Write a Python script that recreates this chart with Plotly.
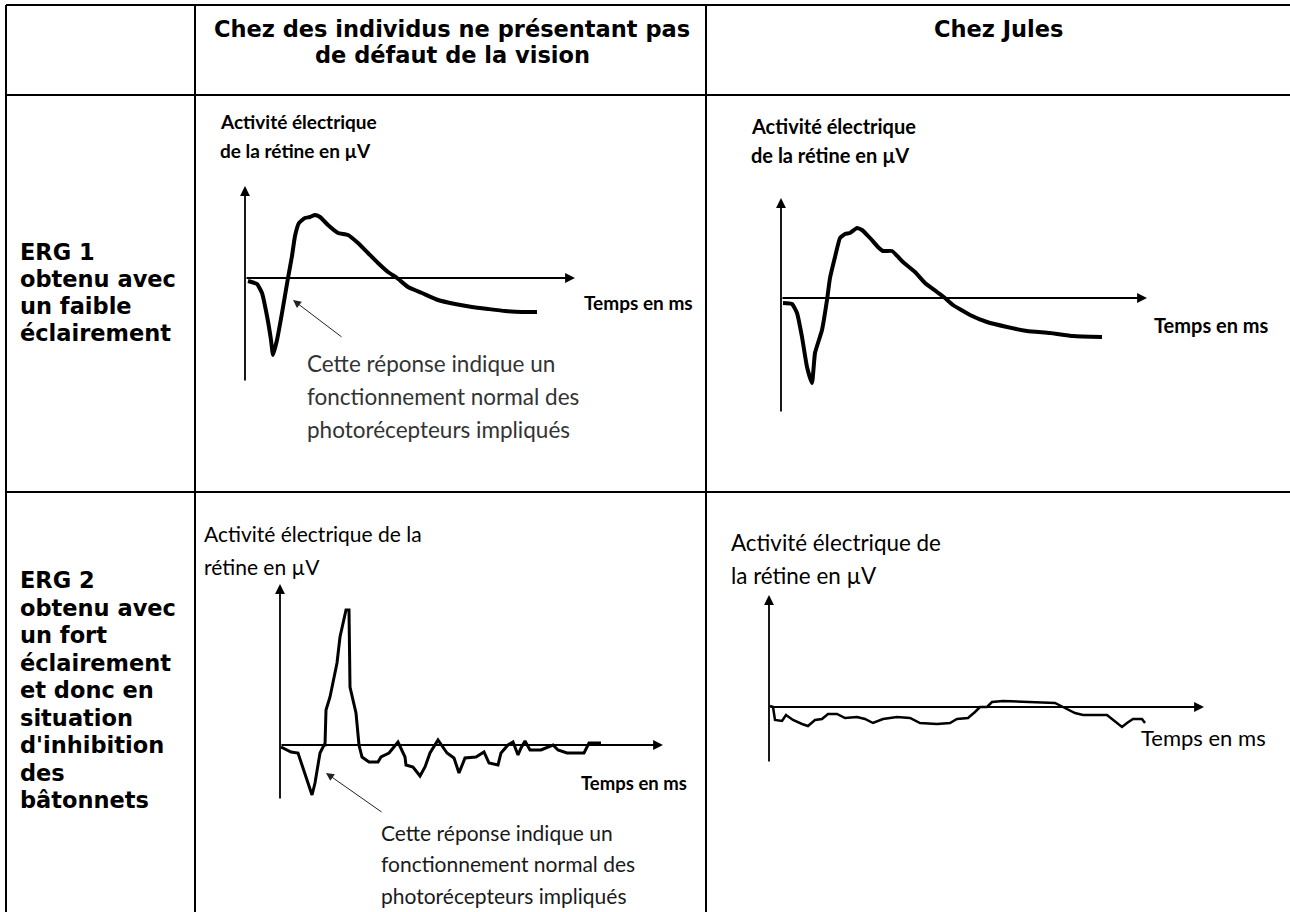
import plotly.graph_objects as go

W, H = 1290, 912

# ---- table text ----
header_normal = ["Chez des individus ne présentant pas", "de défaut de la vision"]
header_jules = ["Chez Jules"]
row1_label = ["ERG 1", "obtenu avec", "un faible", "éclairement"]
row2_label = ["ERG 2", "obtenu avec", "un fort", "éclairement", "et donc en",
              "situation", "d'inhibition", "des", "bâtonnets"]
y_label_bold = ["Activité électrique", "de la rétine en µV"]
y_label_row2_normal = ["Activité électrique de la", "rétine en µV"]
y_label_row2_jules = ["Activité électrique de", "la rétine en µV"]
x_label = "Temps en ms"
note_lines = ["Cette réponse indique un", "fonctionnement normal des", "photorécepteurs impliqués"]

# ---- ERG 1, normal subject ----
erg1_normal_t = [3, 12, 17, 22, 26, 28, 32, 37, 43, 47, 50, 54, 60, 65, 70, 75, 83, 93, 103,
                 113, 123, 133, 143, 152, 163, 177, 193, 210, 227, 243, 260, 277, 292]
erg1_normal_v = [-3, -6, -15, -38, -62, -77, -62, -35, 0, 22, 42, 55, 60, 61, 63, 61, 53, 45, 43,
                 35, 25, 15, 6, 0, -9, -15, -22, -26, -29, -31, -33, -34, -34]

# ---- ERG 1, Jules ----
erg1_jules_t = [2, 11, 16, 21, 26, 31, 34, 41, 46, 49, 54, 59, 64, 69, 76, 81, 89, 97, 102, 111,
                122, 134, 144, 156, 164, 172, 189, 206, 226, 246, 269, 292, 321]
erg1_jules_v = [-5, -6, -15, -39, -69, -85, -55, -32, -2, 20, 41, 60, 64, 65, 70, 68, 60, 51, 47, 47,
                36, 26, 15, 6, 0, -7, -17, -24, -29, -33, -35, -38, -39]

# ---- ERG 2, normal subject ----
erg2_normal_t = [1, 11, 18, 23, 28, 32, 35, 40, 44, 45, 46, 50, 57, 60, 64, 66, 69, 70, 76, 79,
                 82, 89, 98, 101, 109, 118, 125, 126, 133, 140, 145, 150, 158, 167, 174, 179, 185,
                 196, 204, 209, 218, 221, 228, 233, 238, 241, 245, 250, 261, 273, 278, 287, 304,
                 309, 321]
erg2_normal_v = [-2, -7, -8, -22, -38, -50, -38, -8, 0, 0, 35, 48, 82, 108, 125, 135, 135, 58, 32, 0,
                 -12, -17, -17, -12, -8, 3, -12, -20, -22, -31, -22, -8, 5, -8, -13, -28, -13,
                 -12, -7, -18, -20, -8, 0, 3, -10, -3, 4, -5, -5, 0, -5, -8, -8,
                 2, 2]

# ---- ERG 2, Jules ----
erg2_jules_t = [1, 4, 6, 13, 17, 24, 33, 39, 46, 53, 59, 68, 76, 88, 96, 104, 114, 128, 141, 151,
                168, 181, 188, 199, 206, 211, 218, 223, 234, 264, 286, 294, 306, 314, 338, 343,
                353, 358, 364, 373, 376]
erg2_jules_v = [1, 0, -13, -14, -8, -13, -17, -19, -13, -12, -7, -7, -11, -10, -12, -16, -12, -10,
                -11, -16, -17, -16, -12, -11, -5, 0, 0, 5, 6, 5, 4, 0, -6, -8, -8, -12,
                -20, -16, -12, -12, -16]

# panel geometry: pixel box of the plot area and pixel position of the origin
panels = [
    dict(box=(200, 100, 700, 488), origin=(245, 278), v_axis=(-104, 92), t_end=330,
         t=erg1_normal_t, v=erg1_normal_v, width=4, shape="spline"),
    dict(box=(712, 100, 1288, 488), origin=(781, 298), v_axis=(-115, 100), t_end=366,
         t=erg1_jules_t, v=erg1_jules_v, width=4, shape="spline"),
    dict(box=(200, 497, 700, 910), origin=(280, 745), v_axis=(-55, 161), t_end=383,
         t=erg2_normal_t, v=erg2_normal_v, width=3, shape="linear"),
    dict(box=(712, 497, 1288, 910), origin=(769, 707), v_axis=(-56, 112), t_end=435,
         t=erg2_jules_t, v=erg2_jules_v, width=2.5, shape="linear"),
]


def px(x):
    return x / W


def py(y):
    return 1 - y / H


def text_ann(txt, x, y, size, bold=False, family="Lato", color="black", xanchor="left"):
    return dict(text=txt, x=px(x), y=py(y), xref="paper", yref="paper", showarrow=False,
                xanchor=xanchor, yanchor="middle",
                font=dict(family=family, size=size, color=color, weight="bold" if bold else "normal"))


fig = go.Figure()
annotations = []
layout_axes = {}

for i, p in enumerate(panels, start=1):
    x0, y0, x1, y1 = p["box"]
    ox, oy = p["origin"]
    xname = "x" if i == 1 else f"x{i}"
    yname = "y" if i == 1 else f"y{i}"
    layout_axes["xaxis" if i == 1 else f"xaxis{i}"] = dict(
        domain=[px(x0), px(x1)], range=[x0 - ox, x1 - ox], visible=False, fixedrange=True,
        anchor=yname)
    layout_axes["yaxis" if i == 1 else f"yaxis{i}"] = dict(
        domain=[py(y1), py(y0)], range=[oy - y1, oy - y0], visible=False, fixedrange=True,
        anchor=xname)
    line = dict(color="black", width=p["width"], shape=p["shape"])
    if p["shape"] == "spline":
        line["smoothing"] = 0.4
    fig.add_trace(go.Scatter(x=p["t"], y=p["v"], mode="lines", xaxis=xname, yaxis=yname,
                             line=line, showlegend=False, hoverinfo="skip"))
    arrow = dict(xref=xname, yref=yname, axref=xname, ayref=yname, text="", showarrow=True,
                 arrowhead=2, arrowsize=1.1, arrowwidth=1.8, arrowcolor="black")
    annotations.append(dict(x=0, y=p["v_axis"][1], ax=0, ay=p["v_axis"][0], **arrow))
    annotations.append(dict(x=p["t_end"], y=0, ax=0, ay=0, **arrow))

# pointer arrows to the a-wave
pointer = dict(text="", showarrow=True, arrowhead=2, arrowsize=1.6, arrowwidth=1, arrowcolor="#222")
annotations.append(dict(x=48, y=-22, ax=98, ay=-60, xref="x", yref="y", axref="x", ayref="y", **pointer))
annotations.append(dict(x=46, y=-28, ax=103, ay=-68, xref="x3", yref="y3", axref="x3", ayref="y3", **pointer))

# table text
hdr = dict(size=22.5, bold=True, family="DejaVu Sans", xanchor="center")
annotations.append(text_ann(header_normal[0], 452, 29, **hdr))
annotations.append(text_ann(header_normal[1], 452, 55, **hdr))
annotations.append(text_ann(header_jules[0], 998, 29, **hdr))
for k, line in enumerate(row1_label):
    annotations.append(text_ann(line, 18, 252 + 27 * k, 22.5, bold=True, family="DejaVu Sans"))
for k, line in enumerate(row2_label):
    annotations.append(text_ann(line, 18, 580 + 27.5 * k, 22.5, bold=True, family="DejaVu Sans"))

# chart labels
annotations.append(text_ann(y_label_bold[0], 218, 121, 19, bold=True))
annotations.append(text_ann(y_label_bold[1], 218, 150, 19, bold=True))
annotations.append(text_ann(x_label, 582, 302, 19, bold=True))
annotations.append(text_ann(y_label_bold[0], 749, 126, 20, bold=True))
annotations.append(text_ann(y_label_bold[1], 749, 155, 20, bold=True))
annotations.append(text_ann(x_label, 1152, 325, 20, bold=True))
annotations.append(text_ann(y_label_row2_normal[0], 202, 533, 21))
annotations.append(text_ann(y_label_row2_normal[1], 202, 566, 21))
annotations.append(text_ann(x_label, 579, 783, 18.5, bold=True))
annotations.append(text_ann(y_label_row2_jules[0], 729, 542, 22.4))
annotations.append(text_ann(y_label_row2_jules[1], 729, 575, 22.4))
annotations.append(text_ann(x_label, 1139, 737, 22))
for k, line in enumerate(note_lines):
    annotations.append(text_ann(line, 305, 363 + 33 * k, 22.5, color="#333"))
    annotations.append(text_ann(line, 379, 832 + 31.5 * k, 21, color="#1a1a1a"))

# table grid
grid = dict(type="line", xref="paper", yref="paper", line=dict(color="black", width=2))
shapes = [
    dict(x0=px(6), x1=1, y0=py(5), y1=py(5), **grid),
    dict(x0=px(6), x1=1, y0=py(95), y1=py(95), **grid),
    dict(x0=px(6), x1=1, y0=py(492), y1=py(492), **grid),
    dict(x0=px(6), x1=px(6), y0=py(5), y1=0, **grid),
    dict(x0=px(195), x1=px(195), y0=py(5), y1=0, **grid),
    dict(x0=px(706), x1=px(706), y0=py(5), y1=0, **grid),
]

fig.update_layout(
    width=W, height=H, autosize=False,
    margin=dict(l=0, r=0, t=0, b=0),
    paper_bgcolor="white", plot_bgcolor="white",
    showlegend=False,
    annotations=annotations, shapes=shapes,
    **layout_axes,
)

# the page's default 8px body margin would shift the whole table
fig.write_html("out.html", config={"displayModeBar": False},
               post_script="document.body.style.margin='0';document.body.style.overflow='hidden';")
